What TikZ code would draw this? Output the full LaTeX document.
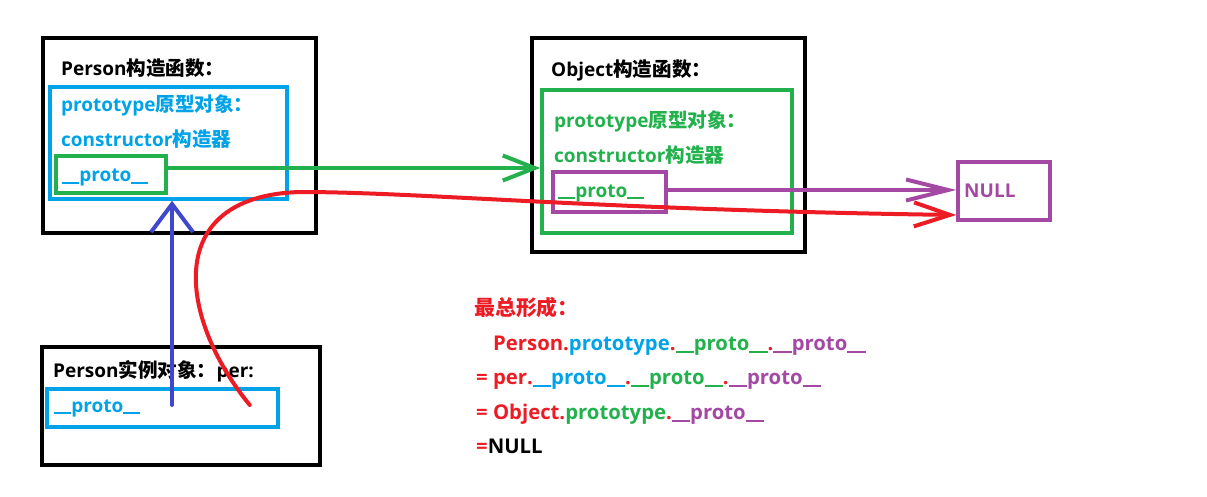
\documentclass[tikz,border=0pt]{standalone}
\usepackage{fontspec}
\setmainfont{Open Sans}
\newfontfamily\cjk{Noto Sans CJK SC}
\usetikzlibrary{arrows.meta,calc}
\definecolor{pred}{HTML}{ED1C24}
\definecolor{pblue}{HTML}{00A2E8}
\definecolor{pgreen}{HTML}{22B14C}
\definecolor{ppurple}{HTML}{A349A4}
\definecolor{pviolet}{HTML}{3F48CC}
\newcommand{\usc}{\rule[-0.13em]{0.45em}{0.105em}}
\newcommand{\us}{\usc\usc proto\usc\usc}
\newcommand{\zh}[1]{{\cjk\fontsize{1.03em}{1em}\selectfont #1}}
\begin{document}
\begin{tikzpicture}[x=1pt,y=-1pt,
  box/.style={draw,minimum width=#1,inner sep=0pt},
  blk/.style={line width=4pt,draw=black},
  txt/.style={anchor=base west,inner sep=0pt,font=\fontsize{19}{20}\selectfont\bfseries},
  ftxt/.style={anchor=base west,inner sep=0pt,font=\fontsize{20.3}{21}\selectfont\bfseries},
  conn/.style={line width=4pt,line cap=round,line join=round},
]
\useasboundingbox (0,0) rectangle (1207,497);
% boxes
\node[box=273pt,minimum height=195pt,blk] (A) at (179.5,135.5) {};
\node[box=237pt,minimum height=112pt,line width=3.5pt,draw=pblue] (Ablue) at (168.5,143) {};
\node[box=110pt,minimum height=37pt,line width=3.5pt,draw=pgreen] (Agreen) at (111,174.5) {};
\node[box=273pt,minimum height=214pt,blk] (B) at (668.5,145) {};
\node[box=250pt,minimum height=143pt,line width=3.5pt,draw=pgreen] (Bgreen) at (667,161.5) {};
\node[box=113pt,minimum height=40pt,line width=3.5pt,draw=ppurple] (Bpurple) at (609.5,192) {};
\node[box=92pt,minimum height=58pt,line width=3.5pt,draw=ppurple] (NULL) at (1004,191) {};
\node[box=278pt,minimum height=118pt,blk] (C) at (181,406) {};
\node[box=231pt,minimum height=38pt,line width=3.5pt,draw=pblue] (Cblue) at (162.5,408) {};
% texts
\node[txt] (tA) at (61,76) {Person\zh{构造函数：}};
\node[txt,text=pblue] (tA1) at (61,112) {prototype\zh{原型对象：}};
\node[txt,text=pblue] (tA2) at (61,147) {constructor\zh{构造器}};
\node[txt,text=pblue] (tA3) at (62,182) {\us};
\node[txt] (tB) at (551,77) {Object\zh{构造函数：}};
\node[txt,text=pgreen] (tB1) at (554,128) {prototype\zh{原型对象：}};
\node[txt,text=pgreen] (tB2) at (554,163) {constructor\zh{构造器}};
\node[txt,text=pgreen] (tB3) at (558,197) {\us};
\node[txt,text=ppurple] (tN) at (964,198) {NULL};
\node[txt] (tC) at (53,377) {Person\zh{实例对象：}per:};
\node[txt,text=pblue] (tC1) at (54,412) {\us};
\node[ftxt,text=pred] (f0) at (474,315) {\zh{最总形成：}};
\node[ftxt] (f1) at (493,350) {\textcolor{pred}{Person.}\textcolor{pblue}{prototype}\textcolor{pred}{.}\textcolor{pgreen}{\us}\textcolor{pred}{.}\textcolor{ppurple}{\us}};
\node[ftxt] (f2) at (476,384) {\textcolor{pred}{= per.}\textcolor{pblue}{\us}\textcolor{pred}{.}\textcolor{pgreen}{\us}\textcolor{pred}{.}\textcolor{ppurple}{\us}};
\node[ftxt] (f3) at (476,419) {\textcolor{pred}{= Object.}\textcolor{pgreen}{prototype}\textcolor{pred}{.}\textcolor{ppurple}{\us}};
\node[ftxt] (f4) at (476,453) {\textcolor{pred}{=}NULL};
% connectors
\draw[conn,pgreen,-{Straight Barb[length=32pt,width=25pt]}] ([yshift=6.5pt]Agreen.east) -- ([yshift=6.5pt]Agreen.east -| Bgreen.west);
\draw[conn,ppurple,-{Straight Barb[length=42pt,width=21pt]}] ([yshift=2pt]Bpurple.east) -- ([yshift=2pt]Bpurple.east -| NULL.west);
\coordinate (bstart) at ([xshift=9.5pt,yshift=3pt]Cblue.center);
\draw[conn,pviolet,-{Straight Barb[length=28pt,width=42pt]}] (bstart) -- (bstart |- Ablue.south);
\coordinate (rstart) at ([xshift=-30pt,yshift=3pt]Cblue.east);
\coordinate (rend) at ([yshift=-24pt]NULL.west);
\draw[conn,pred,-{Straight Barb[length=36pt,width=24pt]}] (rstart) .. controls (180,320) and (160,196) .. (300,192) .. controls (420,192) and (600,210) .. (rend);
\end{tikzpicture}
\end{document}
